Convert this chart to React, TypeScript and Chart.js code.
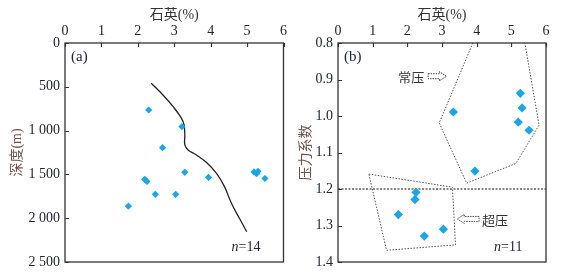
import React, { useEffect, useRef } from "react";
import { Chart, registerables } from "chart.js";

Chart.register(...registerables);

// ---------- data ----------
const quartzTicks = [0, 1, 2, 3, 4, 5, 6];
const depthTickValues = [0, 500, 1000, 1500, 2000, 2500];
const depthTickLabels = ["0", "500", "1 000", "1 500", "2 000", "2 500"];
const pressureTickValues = [0.8, 0.9, 1.0, 1.1, 1.2, 1.3, 1.4];
const pressureTickLabels = ["0.8", "0.9", "1.0", "1.1", "1.2", "1.3", "1.4"];

// panel (a): quartz (%) vs depth (m)
const quartzA = [2.30, 3.21, 2.68, 2.19, 2.25, 2.48, 1.74, 3.04, 3.29, 3.94, 5.19, 5.30, 5.26, 5.49];
const depthA = [765, 955, 1195, 1556, 1580, 1727, 1863, 1727, 1476, 1533, 1472, 1464, 1492, 1547];
// trend curve in panel (a)
const trendQuartz = [2.37, 2.69, 2.97, 3.20, 3.27, 3.29, 3.29, 3.38, 3.61, 3.88, 4.16, 4.38, 4.57, 4.79, 4.99];
const trendDepth = [460, 594, 727, 860, 936, 1050, 1164, 1221, 1279, 1362, 1488, 1640, 1830, 2001, 2154];

// panel (b): quartz (%) vs pressure coefficient
const quartzB = [5.26, 5.31, 5.20, 5.51, 3.33, 3.95, 2.25, 2.22, 1.74, 2.49, 3.04];
const pressureB = [0.938, 0.978, 1.017, 1.039, 0.989, 1.151, 1.209, 1.229, 1.270, 1.329, 1.310];
// zone outlines in panel (b)
const normalZoneQuartz = [3.89, 2.92, 3.71, 5.13, 5.80, 5.39];
const normalZonePressure = [0.80, 1.019, 1.184, 1.130, 1.025, 0.80];
const overZoneQuartz = [0.89, 3.30, 3.39, 1.40, 0.89];
const overZonePressure = [1.159, 1.195, 1.353, 1.368, 1.159];
const boundaryQuartz = [0, 6];
const boundaryPressure = [1.2, 1.2];

const panelLabels = ["(a)", "(b)"];
const sampleCounts = ["14", "11"];
const zoneLabels = ["常压", "超压"];

// ---------- style ----------
const SERIF = '"Liberation Serif", "Noto Sans CJK SC", serif';
const TICK_COLOR = "#222433";
const TITLE_COLOR = "#333333";
const YTITLE_COLOR = "#6e524c";
const POINT_COLOR = "#1aa5e8";
const FRAME_COLOR = "#333333";

const pts = (xs: number[], ys: number[]) => xs.map((x, i) => ({ x, y: ys[i] }));

type Deco = {
  panel: string;
  n: string;
  arrows?: { x0: number; x1: number; y: number; dir: "right" | "left"; text: string }[];
};

const decoPlugin = {
  id: "deco",
  afterDatasetsDraw(chart: any, _args: any, opts: Deco) {
    const { ctx, chartArea: a, scales } = chart;
    const xs = scales.x;
    const ys = scales.y;
    ctx.save();
    // frame
    ctx.strokeStyle = FRAME_COLOR;
    ctx.lineWidth = 1.3;
    ctx.setLineDash([]);
    ctx.strokeRect(a.left, a.top, a.right - a.left, a.bottom - a.top);
    // inside ticks
    ctx.lineWidth = 1.2;
    ctx.beginPath();
    xs.ticks.forEach((t: any) => {
      const px = Math.round(xs.getPixelForValue(t.value)) + 0.5;
      ctx.moveTo(px, a.top);
      ctx.lineTo(px, a.top + 4);
    });
    ys.ticks.forEach((t: any) => {
      const py = Math.round(ys.getPixelForValue(t.value)) + 0.5;
      ctx.moveTo(a.left, py);
      ctx.lineTo(a.left + 4, py);
    });
    ctx.stroke();

    // panel label
    ctx.fillStyle = TICK_COLOR;
    ctx.font = `15px ${SERIF}`;
    ctx.textAlign = "left";
    ctx.textBaseline = "alphabetic";
    ctx.fillText(opts.panel, a.left + 6, a.top + 18);

    // n = ...
    ctx.font = `italic 14px ${SERIF}`;
    const nx = a.right - 52;
    const ny = a.bottom - 11;
    ctx.fillText("n", nx, ny);
    const nw = ctx.measureText("n").width;
    ctx.font = `14px ${SERIF}`;
    ctx.fillText("=" + opts.n, nx + nw, ny);

    // arrows with zone labels
    (opts.arrows || []).forEach((ar) => {
      const x0 = xs.getPixelForValue(ar.x0);
      const x1 = xs.getPixelForValue(ar.x1);
      const y = ys.getPixelForValue(ar.y);
      const hl = 7;
      const sh = 2.5;
      const hh = 4.5;
      ctx.strokeStyle = "#444";
      ctx.lineWidth = 1;
      ctx.setLineDash([1.5, 1]);
      ctx.beginPath();
      if (ar.dir === "right") {
        ctx.moveTo(x0, y - sh);
        ctx.lineTo(x1 - hl, y - sh);
        ctx.lineTo(x1 - hl, y - hh);
        ctx.lineTo(x1, y);
        ctx.lineTo(x1 - hl, y + hh);
        ctx.lineTo(x1 - hl, y + sh);
        ctx.lineTo(x0, y + sh);
        ctx.closePath();
      } else {
        ctx.moveTo(x1, y - sh);
        ctx.lineTo(x0 + hl, y - sh);
        ctx.lineTo(x0 + hl, y - hh);
        ctx.lineTo(x0, y);
        ctx.lineTo(x0 + hl, y + hh);
        ctx.lineTo(x0 + hl, y + sh);
        ctx.lineTo(x1, y + sh);
        ctx.closePath();
      }
      ctx.stroke();
      ctx.setLineDash([]);
      ctx.font = `13px "Noto Sans CJK SC", ${SERIF}`;
      ctx.fillStyle = "#333";
      ctx.textBaseline = "middle";
      if (ar.dir === "right") {
        ctx.textAlign = "right";
        ctx.fillText(ar.text, x0 - 4, y + 1);
      } else {
        ctx.textAlign = "left";
        ctx.fillText(ar.text, x1 + 3, y + 1);
      }
    });
    ctx.restore();
  },
};

function makeScales(
  yMin: number,
  yMax: number,
  yValues: number[],
  yLabels: string[],
  yTitle: string,
  yWidth: number,
  yTitlePad: number
) {
  return {
    x: {
      type: "linear",
      position: "top",
      min: 0,
      max: 6,
      afterBuildTicks: (s: any) => {
        s.ticks = quartzTicks.map((v) => ({ value: v }));
      },
      afterFit: (s: any) => {
        s.height = 43;
      },
      grid: { display: false, drawTicks: false },
      border: { display: false },
      ticks: {
        padding: 3,
        color: TICK_COLOR,
        font: { family: SERIF, size: 14 },
        callback: (v: any) => String(v),
      },
      title: {
        display: true,
        text: "石英(%)",
        color: TITLE_COLOR,
        font: { family: SERIF, size: 14 },
        padding: { top: 7, bottom: 0 },
      },
    },
    y: {
      type: "linear",
      position: "left",
      min: yMin,
      max: yMax,
      reverse: true,
      afterBuildTicks: (s: any) => {
        s.ticks = yValues.map((v) => ({ value: v }));
      },
      afterFit: (s: any) => {
        s.width = yWidth;
      },
      grid: { display: false, drawTicks: false },
      border: { display: false },
      ticks: {
        padding: 5,
        color: TICK_COLOR,
        font: { family: SERIF, size: 14 },
        callback: (_v: any, i: number) => yLabels[i],
      },
      title: {
        display: true,
        text: yTitle,
        color: YTITLE_COLOR,
        font: { family: SERIF, size: 14 },
        padding: { top: yTitlePad, bottom: 0 },
      },
    },
  };
}

function ChartA() {
  const ref = useRef<HTMLCanvasElement>(null);
  useEffect(() => {
    const chart = new Chart(ref.current as HTMLCanvasElement, {
      type: "scatter",
      data: {
        datasets: [
          {
            data: pts(quartzA, depthA),
            pointStyle: "rectRot",
            pointRadius: 3.6,
            backgroundColor: POINT_COLOR,
            borderColor: POINT_COLOR,
            borderWidth: 0,
          },
          {
            data: pts(trendQuartz, trendDepth),
            showLine: true,
            pointRadius: 0,
            borderColor: "#222",
            borderWidth: 1.3,
            tension: 0.4,
            fill: false,
          },
        ],
      } as any,
      options: {
        animation: false,
        responsive: false,
        devicePixelRatio: 1,
        layout: { padding: { left: 0, top: 0, right: 6, bottom: 14 } },
        plugins: {
          legend: { display: false },
          tooltip: { enabled: false },
          deco: { panel: panelLabels[0], n: sampleCounts[0] },
        } as any,
        scales: makeScales(0, 2500, depthTickValues, depthTickLabels, "深度(m)", 65, 9) as any,
      },
      plugins: [decoPlugin],
    });
    return () => chart.destroy();
  }, []);
  return <canvas ref={ref} width={290} height={276} style={{ display: "block" }} />;
}

function ChartB() {
  const ref = useRef<HTMLCanvasElement>(null);
  useEffect(() => {
    const dotted = {
      showLine: true,
      pointRadius: 0,
      borderColor: "#555",
      borderWidth: 1,
      borderDash: [1.5, 1.5],
      tension: 0,
      fill: false,
    };
    const chart = new Chart(ref.current as HTMLCanvasElement, {
      type: "scatter",
      data: {
        datasets: [
          {
            data: pts(quartzB, pressureB),
            pointStyle: "rectRot",
            pointRadius: 4.6,
            backgroundColor: POINT_COLOR,
            borderColor: POINT_COLOR,
            borderWidth: 0,
          },
          { ...dotted, data: pts(normalZoneQuartz, normalZonePressure) },
          { ...dotted, data: pts(overZoneQuartz, overZonePressure) },
          {
            ...dotted,
            borderColor: "#111",
            borderDash: [2, 1.5],
            data: pts(boundaryQuartz, boundaryPressure),
          },
        ],
      } as any,
      options: {
        animation: false,
        responsive: false,
        devicePixelRatio: 1,
        layout: { padding: { left: 0, top: 0, right: 15, bottom: 14 } },
        plugins: {
          legend: { display: false },
          tooltip: { enabled: false },
          deco: {
            panel: panelLabels[1],
            n: sampleCounts[1],
            arrows: [
              { x0: 2.6, x1: 3.13, y: 0.891, dir: "right", text: zoneLabels[0] },
              { x0: 3.44, x1: 4.07, y: 1.282, dir: "left", text: zoneLabels[1] },
            ],
          },
        } as any,
        scales: makeScales(0.8, 1.4, pressureTickValues, pressureTickLabels, "压力系数", 48, 8) as any,
      },
      plugins: [decoPlugin],
    });
    return () => chart.destroy();
  }, []);
  return <canvas ref={ref} width={271} height={276} style={{ display: "block" }} />;
}

export default function App() {
  useEffect(() => {
    document.body.style.margin = "0";
  }, []);
  return (
    <div style={{ position: "fixed", left: 0, top: 0, width: 561, height: 276, background: "#fff" }}>
      <div style={{ position: "absolute", left: 0, top: 0 }}>
        <ChartA />
      </div>
      <div style={{ position: "absolute", left: 290, top: 0 }}>
        <ChartB />
      </div>
    </div>
  );
}
